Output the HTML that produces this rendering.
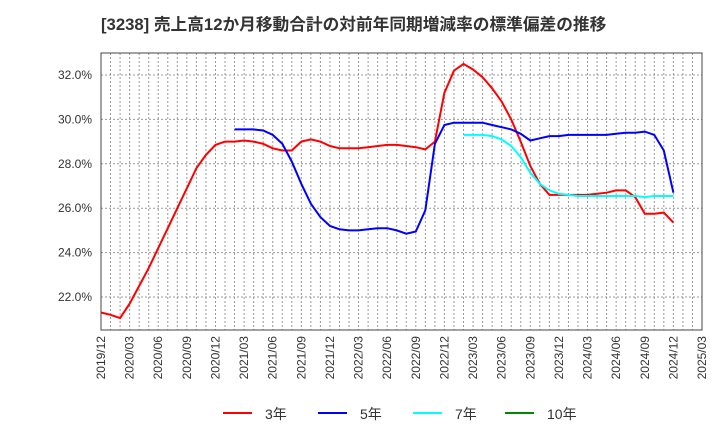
<!DOCTYPE html>
<html><head><meta charset="utf-8"><style>
body{margin:0;background:#fff;font-family:"Liberation Sans","Noto Sans CJK JP",sans-serif;}
</style></head><body>
<svg width="720" height="440" xmlns="http://www.w3.org/2000/svg" id="chart">
<rect width="720" height="440" fill="#fff"/>
<text x="101" y="30" font-size="16.7" font-weight="bold" fill="#333" font-family="Liberation Sans, Noto Sans CJK JP, sans-serif">[3238]  売上高12か月移動合計の対前年同期増減率の標準偏差の推移</text>
<g id="grid"></g><g id="series"></g><g id="axes"></g><g id="legend"></g>
</svg>
<script>
const xLabels=["2019/12","2020/03","2020/06","2020/09","2020/12","2021/03","2021/06","2021/09","2021/12","2022/03","2022/06","2022/09","2022/12","2023/03","2023/06","2023/09","2023/12","2024/03","2024/06","2024/09","2024/12","2025/03"];
const yTicks=[22,24,26,28,30,32];
const s3=[21.3,21.2,21.05,21.7,22.5,23.3,24.2,25.1,26.0,26.9,27.8,28.4,28.85,29.0,29.0,29.05,29.0,28.9,28.7,28.6,28.6,29.0,29.1,29.0,28.8,28.7,28.7,28.7,28.75,28.8,28.85,28.85,28.8,28.75,28.65,29.0,31.2,32.2,32.5,32.25,31.9,31.4,30.8,30.0,29.0,27.9,27.1,26.6,26.6,26.6,26.6,26.6,26.65,26.7,26.8,26.8,26.5,25.75,25.75,25.8,25.35];
const s5=[null,null,null,null,null,null,null,null,null,null,null,null,null,null,29.55,29.55,29.55,29.5,29.3,28.9,28.1,27.1,26.2,25.6,25.2,25.05,25.0,25.0,25.05,25.1,25.1,25.0,24.85,24.95,25.9,28.9,29.75,29.85,29.85,29.85,29.85,29.75,29.65,29.55,29.35,29.05,29.15,29.25,29.25,29.3,29.3,29.3,29.3,29.3,29.35,29.4,29.4,29.45,29.3,28.6,26.7];
const s7=[null,null,null,null,null,null,null,null,null,null,null,null,null,null,null,null,null,null,null,null,null,null,null,null,null,null,null,null,null,null,null,null,null,null,null,null,null,null,29.3,29.3,29.3,29.25,29.1,28.8,28.3,27.6,27.1,26.8,26.65,26.6,26.55,26.55,26.55,26.55,26.55,26.55,26.55,26.5,26.55,26.55,26.55];
const s10=[];
const L=101,R=702,T=53,B=330,NM=63;
const xs=i=>L+(R-L)*i/NM;
const ys=v=>297-(v-22)*22.2;
const NS="http://www.w3.org/2000/svg";
function mk(t,a,p){const e=document.createElementNS(NS,t);for(const k in a)e.setAttribute(k,a[k]);p.appendChild(e);return e;}
const grid=document.getElementById('grid'),axes=document.getElementById('axes'),ser=document.getElementById('series'),leg=document.getElementById('legend');
for(let i=1;i<NM;i++){const l=mk('line',{x1:xs(i),x2:xs(i),y1:T,y2:B,stroke:'#999','stroke-dasharray':'2,2','stroke-width':1},grid);

}
yTicks.forEach(v=>{const l=mk('line',{x1:L,x2:R,y1:ys(v),y2:ys(v),stroke:'#999','stroke-dasharray':'2,2','stroke-width':1},grid);


const t=mk('text',{x:92,y:ys(v)+4,'text-anchor':'end','font-size':12,fill:'#333'},axes);t.textContent=v.toFixed(1)+'%';

});
const fr=mk('rect',{x:L,y:T,width:R-L,height:B-T,fill:'none',stroke:'#444','stroke-width':1},axes);


xLabels.forEach((s,k)=>{const x=xs(k*3);const t=mk('text',{x:0,y:0,transform:`translate(${x+4},336) rotate(-90)`,'text-anchor':'end','font-size':12,fill:'#333'},axes);t.textContent=s;

});
function draw(arr,color,name){let d='';let pen=false;arr.forEach((v,i)=>{if(v==null){pen=false;return;}d+=(pen?'L':'M')+xs(i).toFixed(1)+','+ys(v).toFixed(1);pen=true;});
if(!d)return;const p=mk('path',{d:d,fill:'none',stroke:color,'stroke-width':2},ser);

}
draw(s3,'#f00','series-3y');draw(s5,'#00f','series-5y');draw(s7,'#0ff','series-7y');draw(s10,'#080','series-10y');
[['3年','#f00',223],['5年','#00f',318],['7年','#0ff',413],['10年','#080',505]].forEach(([n,c,x])=>{
const g=mk('g',{},leg);


mk('line',{x1:x,x2:x+29,y1:413,y2:413,stroke:c,'stroke-width':2},g);
const t=mk('text',{x:x+42,y:419,'font-size':14,fill:'#333'},g);t.textContent=n;});
</script>
</body></html>
